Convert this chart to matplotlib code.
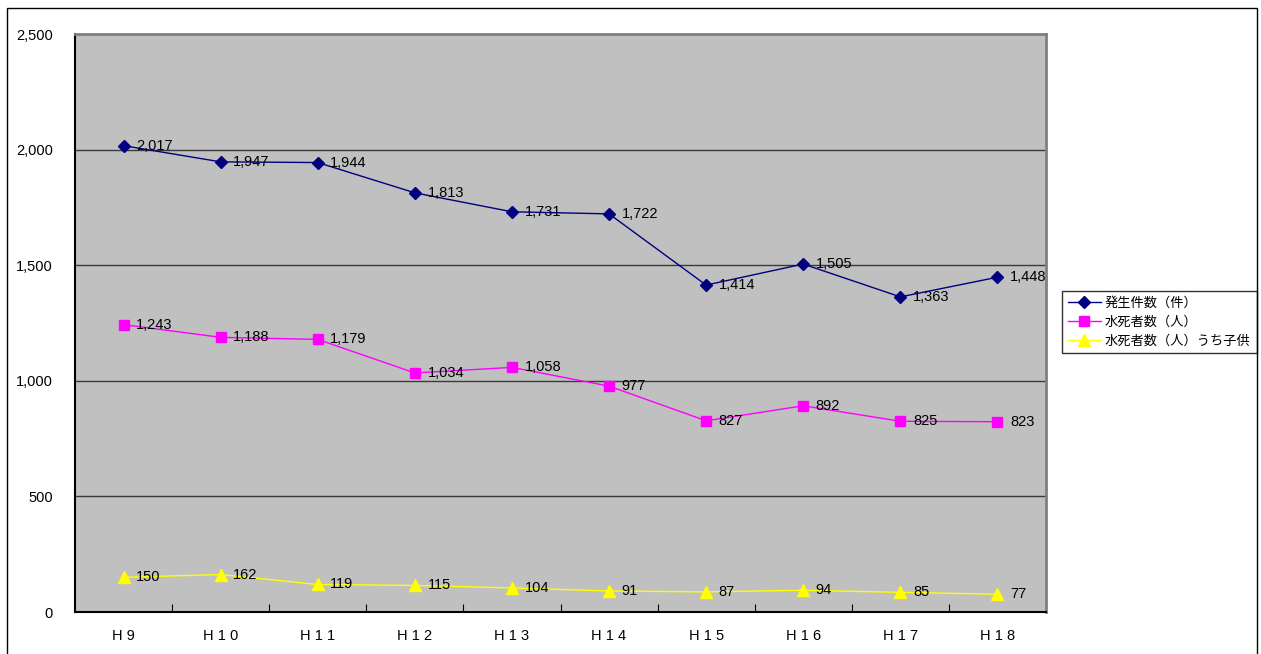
import matplotlib
matplotlib.use("Agg")
import matplotlib.pyplot as plt
from matplotlib.patches import Rectangle

plt.rcParams['font.family'] = ['Liberation Sans', 'Noto Sans CJK JP', 'DejaVu Sans']

years = ['H 9', 'H 1 0', 'H 1 1', 'H 1 2', 'H 1 3', 'H 1 4', 'H 1 5', 'H 1 6', 'H 1 7', 'H 1 8']
cases = [2017, 1947, 1944, 1813, 1731, 1722, 1414, 1505, 1363, 1448]
deaths = [1243, 1188, 1179, 1034, 1058, 977, 827, 892, 825, 823]
children = [150, 162, 119, 115, 104, 91, 87, 94, 85, 77]

fig = plt.figure(figsize=(12.61, 6.54), dpi=100)
# outer frame
fig.patches.append(Rectangle((7/1261, -0.1), 1250/1261, 1.1 - 8/654, transform=fig.transFigure,
                             fill=False, edgecolor='black', linewidth=1))

ax = fig.add_axes([75/1261, 1 - 612/654, (1046-75)/1261, (612-34)/654])
ax.set_facecolor('#C0C0C0')
x = range(len(years))

series = [
    (cases, '発生件数（件）', '#000080', 'D', 6),
    (deaths, '水死者数（人）', '#FF00FF', 's', 7),
    (children, '水死者数（人）うち子供', '#FFFF00', '^', 9),
]
for vals, name, col, mk, ms in series:
    ax.plot(x, vals, color=col, marker=mk, markersize=ms, linewidth=1, label=name, zorder=3)
    for i, v in zip(x, vals):
        ax.text(i + 0.13, v, f'{v:,}', fontsize=10.5, va='center', ha='left', zorder=4)

ax.set_xlim(-0.5, 9.5)
ax.set_ylim(0, 2500)
ax.set_yticks(range(0, 2501, 500))
ax.set_yticklabels([f'{v:,}' for v in range(0, 2501, 500)], fontsize=10.5)
ax.yaxis.grid(True, color='#3a3a3a', linewidth=1)
ax.set_axisbelow(True)
ax.tick_params(axis='y', length=0, pad=16)

ax.set_xticks([i + 0.5 for i in range(9)])
ax.set_xticklabels([])
ax.set_xticks(list(x), minor=True)
ax.set_xticklabels(years, minor=True, fontsize=10.5)
ax.tick_params(axis='x', which='major', direction='in', length=6, color='black')
ax.tick_params(axis='x', which='minor', length=0, pad=12)

for s in ['top', 'right']:
    ax.spines[s].set_color('#808080')
    ax.spines[s].set_linewidth(2)
for s in ['left', 'bottom']:
    ax.spines[s].set_color('black')
    ax.spines[s].set_linewidth(1.5)

leg = ax.legend(loc='center left', bbox_to_anchor=(1062/1261, 1 - 322/654), bbox_transform=fig.transFigure,
                frameon=True, fancybox=False, edgecolor='black', fontsize=9.5,
                handlelength=2.5, borderpad=0.45, labelspacing=0.5, handletextpad=0.3, borderaxespad=0)
leg.get_frame().set_linewidth(1)

fig.savefig('out.png', dpi=100)
